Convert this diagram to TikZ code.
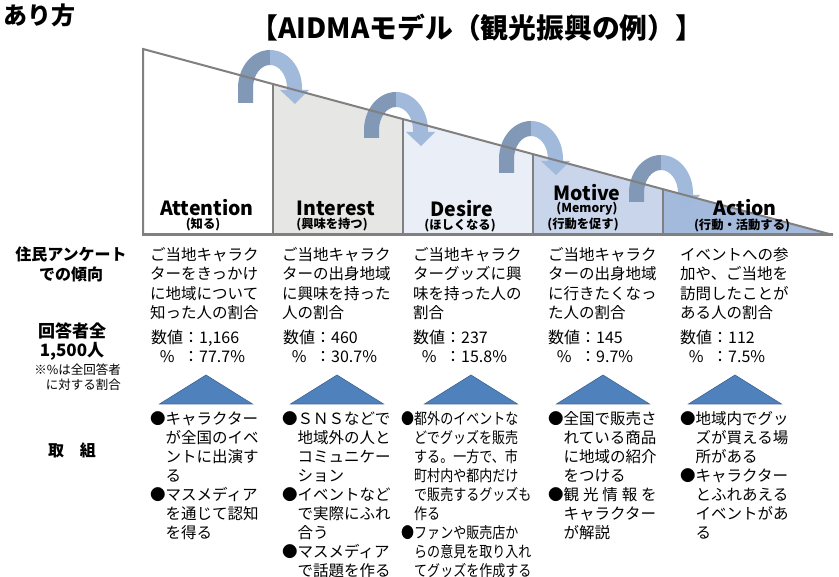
\documentclass[tikz,border=0pt]{standalone}
\usepackage{fontspec}
\setmainfont{Noto Sans CJK JP}
\definecolor{edge}{HTML}{808080}
\definecolor{ctwo}{HTML}{E6E7E5}
\definecolor{cthree}{HTML}{EAEEF7}
\definecolor{cfour}{HTML}{C9D5EA}
\definecolor{cfive}{HTML}{A3BADD}
\definecolor{arrdark}{HTML}{8198B6}
\definecolor{arrlight}{HTML}{A1BADC}
\definecolor{tri}{HTML}{4F81BD}
\definecolor{triedge}{HTML}{3C6496}
\newcommand\hb{\phantom{●}}
\newcommand\uarr[3]{%
 \fill[arrdark] ({#1-32},{#2+#3}) -- ({#1-32},{#2}) arc[start angle=180,end angle=270,x radius=32,y radius=38] -- ({#1},{#2-23}) arc[start angle=270,end angle=180,x radius=17,y radius=23] -- ({#1-17},{#2+#3}) -- cycle;
 \fill[arrlight] ({#1},{#2-38}) arc[start angle=270,end angle=360,x radius=32,y radius=38] -- ({#1+32},{#2+2}) -- ({#1+39},{#2+2}) -- ({#1+25},{#2+16}) -- ({#1+10},{#2+2}) -- ({#1+17},{#2+2}) -- ({#1+17},{#2}) arc[start angle=360,end angle=270,x radius=17,y radius=23] -- cycle;
}
\newcommand\triup[1]{%
 \filldraw[fill=tri, draw=triedge, line width=0.6pt] (#1,375) -- ({#1+46.5},404) -- ({#1-46.5},404) -- cycle;
}
\tikzset{
 stage/.style={font=\bfseries\fontsize{19.5}{20}\selectfont, inner sep=0pt},
 stagesub/.style={font=\bfseries\fontsize{12.3}{12}\selectfont, inner sep=0pt},
 body/.style={font=\fontsize{15.5}{19.5}\selectfont, align=left, anchor=north west, inner sep=0pt},
 nums/.style={font=\fontsize{16}{19}\selectfont, align=left, anchor=north west, inner sep=0pt},
 bul/.style={font=\fontsize{15.5}{19}\selectfont, align=left, anchor=north west, inner sep=0pt},
 head/.style={font=\bfseries\fontsize{16}{20}\selectfont, align=center, inner sep=0pt},
 divider/.style={edge, line width=2pt},
}
\begin{document}
\begin{tikzpicture}[x=1pt,y=-1pt]
\useasboundingbox (0,0) rectangle (839,577);
\fill[white] (0,0) rectangle (839,577);

% wedge fills
\fill[white] (143,49) -- (273,84.04) -- (273,235) -- (143,235) -- cycle;
\fill[ctwo] (273,84.04) -- (403,119.09) -- (403,235) -- (273,235) -- cycle;
\fill[cthree] (403,119.09) -- (533,154.13) -- (533,235) -- (403,235) -- cycle;
\fill[cfour] (533,154.13) -- (663,189.17) -- (663,235) -- (533,235) -- cycle;
\fill[cfive] (663,189.17) -- (833,235) -- (663,235) -- cycle;

% curved arrows
\uarr{270}{88}{15}
\uarr{396}{130}{8}
\uarr{531}{159}{14}
\uarr{661}{193}{9}

% wedge outline
\draw[edge, line width=2pt, line join=miter] (143,235) -- (143,49) -- (833,235);
\draw[divider] (273,84.04) -- (273,235);
\draw[divider] (403,119.09) -- (403,235);
\draw[divider] (533,154.13) -- (533,235);
\draw[divider] (663,189.17) -- (663,235);
\draw[edge, line width=3pt] (142,235) -- (833,235);

% titles
\node[font=\bfseries\fontsize{24}{26}\selectfont, anchor=east, inner sep=0pt] (arikata) at (76,15) {あり方};
\node[font=\bfseries\fontsize{27.8}{29}\selectfont, inner sep=0pt] (title) at (477,28) {【AIDMAモデル（観光振興の例）】};

% stage labels
\node[stage] (att) at (207,208) {Attention};
\node[stagesub] (attj) at (203,225) {(知る)};
\node[stage] (int) at (336,208) {Interest};
\node[stagesub] (intj) at (332,225) {(興味を持つ)};
\node[stage] (des) at (462,209) {Desire};
\node[stagesub] (desj) at (460,226) {(ほしくなる)};
\node[stage] (mot) at (587,193) {Motive};
\node[stagesub] (mem) at (587,209) {(Memory)};
\node[stagesub] (motj) at (583,225) {(行動を促す)};
\node[stage] (act) at (745,208) {Action};
\node[stagesub] (actj) at (742,225) {(行動・活動する)};

% left header
\node[head] (h1) at (71,264) {住民アンケート\\での傾向};
\node[head, font=\bfseries\fontsize{17}{19}\selectfont] (h2) at (72,342) {回答者全\\1,500人};
\node[font=\fontsize{12.5}{15}\selectfont, align=right, anchor=north east, inner sep=0pt] (h3) at (121,364) {※\%は全回答者\\に対する割合};
\node[head] (h4) at (72,450) {取　組};

% survey texts
\node[body] (t1) at (150,247) {ご当地キャラク\\ターをきっかけ\\に地域について\\知った人の割合};
\node[body] (t2) at (282,247) {ご当地キャラク\\ターの出身地域\\に興味を持った\\人の割合};
\node[body] (t3) at (413,247) {ご当地キャラク\\ターグッズに興\\味を持った人の\\割合};
\node[body] (t4) at (548,247) {ご当地キャラク\\ターの出身地域\\に行きたくなっ\\た人の割合};
\node[body] (t5) at (680,247) {イベントへの参\\加や、ご当地を\\訪問したことが\\ある人の割合};

% numbers
\node[nums] (n1) at (151,330) {数値：1,166\\\makebox[2em][c]{\%}：77.7\%};
\node[nums] (n2) at (283,330) {数値：460\\\makebox[2em][c]{\%}：30.7\%};
\node[nums] (n3) at (413,330) {数値：237\\\makebox[2em][c]{\%}：15.8\%};
\node[nums] (n4) at (548,330) {数値：145\\\makebox[2em][c]{\%}：9.7\%};
\node[nums] (n5) at (680,330) {数値：112\\\makebox[2em][c]{\%}：7.5\%};

% triangles
\triup{206}
\triup{337}
\triup{471}
\triup{603}
\triup{735}

% initiatives
\node[bul] (b1) at (150,411.5) {●キャラクター\\\hb が全国のイベ\\\hb ントに出演す\\\hb る\\●マスメディア\\\hb を通じて認知\\\hb を得る};
\node[bul] (b2) at (282,411.5) {●ＳＮＳなどで\\\hb 地域外の人と\\\hb コミュニケー\\\hb ション\\●イベントなど\\\hb で実際にふれ\\\hb 合う\\●マスメディア\\\hb で話題を作る};
\node[bul, font=\fontsize{15.5}{19}\selectfont\addfontfeature{FakeStretch=0.84}] (b3) at (401,411.5) {●都外のイベントな\\\hb どでグッズを販売\\\hb する。一方で、市\\\hb 町村内や都内だけ\\\hb で販売するグッズも\\\hb 作る\\●ファンや販売店か\\\hb らの意見を取り入れ\\\hb てグッズを作成する};
\node[bul] (b4) at (548,411.5) {●全国で販売さ\\\hb れている商品\\\hb に地域の紹介\\\hb をつける\\●観\hspace{0.25em}光\hspace{0.25em}情\hspace{0.25em}報\hspace{0.25em}を\\\hb キャラクター\\\hb が解説};
\node[bul] (b5) at (680,411.5) {●地域内でグッ\\\hb ズが買える場\\\hb 所がある\\●キャラクター\\\hb とふれあえる\\\hb イベントがあ\\\hb る};
\end{tikzpicture}
\end{document}
